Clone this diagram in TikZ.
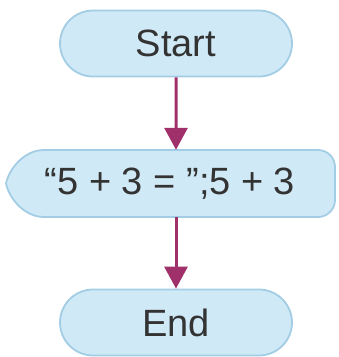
\documentclass[tikz,border=0pt]{standalone}
\usepackage{fontspec}
\setmainfont{Liberation Sans}
\usetikzlibrary{shapes.misc,arrows.meta}
\definecolor{boxfill}{HTML}{CFE9F6}
\definecolor{boxline}{HTML}{A3CDE4}
\definecolor{arrowc}{HTML}{A0306A}
\definecolor{txt}{HTML}{333333}
\begin{document}
\begin{tikzpicture}[x=1pt,y=1pt,
  term/.style={rounded rectangle, draw=boxline, fill=boxfill, line width=1.8pt,
    minimum width=232pt, minimum height=66pt, inner sep=0pt, text=txt,
    font=\fontsize{38}{42}\selectfont},
  flow/.style={draw=arrowc, line width=3pt, -{Triangle[length=22pt,width=23pt]}}]
\useasboundingbox (0,0) rectangle (339,357);
\node[term] (start) at (176,313.5) {Start};
\node[term] (end) at (176,34.5) {End};
\draw[draw=boxline, fill=boxfill, line width=1.8pt]
  (44,207) -- (318,207) arc[start angle=90, end angle=0, radius=17]
  -- (335,157) arc[start angle=0, end angle=-90, radius=17]
  -- (44,140)
  .. controls (24,140) and (9,159) .. (6,173.5)
  .. controls (9,188) and (24,207) .. (44,207) -- cycle;
\node[minimum height=67pt, inner sep=0pt, text=txt, font=\fontsize{38}{42}\selectfont] (disp) at (176,173.5) {\hspace*{-12pt}“5 + 3 = ”;5 + 3};
\draw[flow] (start) -- (disp);
\draw[flow] (disp) -- (end);
\end{tikzpicture}
\end{document}
